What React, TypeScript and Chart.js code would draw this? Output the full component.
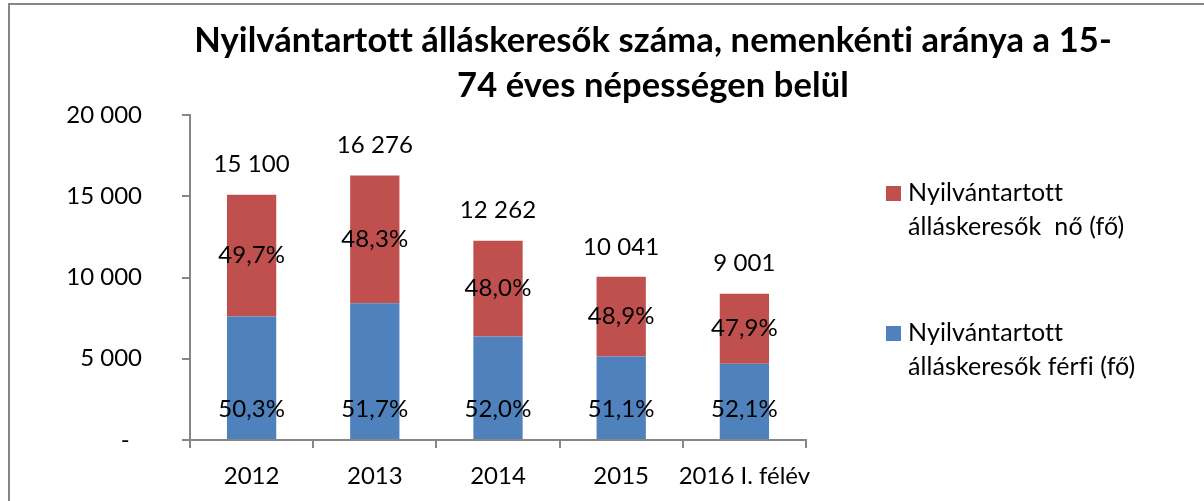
import React, { useEffect, useRef } from "react";
import { Chart, registerables } from "chart.js";

Chart.register(...registerables);

const categories = ["2012", "2013", "2014", "2015", "2016 I. félév"];
const maleValues = [7595, 8415, 6376, 5131, 4690];
const femaleValues = [7505, 7861, 5886, 4910, 4311];
const malePct = ["50,3%", "51,7%", "52,0%", "51,1%", "52,1%"];
const femalePct = ["49,7%", "48,3%", "48,0%", "48,9%", "47,9%"];
const maleLabel = "Nyilvántartott álláskeresők férfi (fő)";
const femaleLabel = "Nyilvántartott álláskeresők  nő (fő)";
const titleLines = [
  "Nyilvántartott álláskeresők száma, nemenkénti aránya a 15-",
  "74 éves népességen belül",
];

const FONT = "Lato, 'Open Sans', sans-serif";
const fmt = (v: number) =>
  Math.round(v)
    .toString()
    .replace(/\B(?=(\d{3})+(?!\d))/g, " ");

const decorPlugin = {
  id: "decor",
  beforeDraw(chart: any) {
    const ctx = chart.ctx;
    ctx.save();
    ctx.fillStyle = "#ffffff";
    ctx.fillRect(0, 0, chart.width, chart.height);
    ctx.strokeStyle = "#868686";
    ctx.lineWidth = 2;
    ctx.beginPath();
    ctx.moveTo(9, chart.height + 2);
    ctx.lineTo(9, 4);
    ctx.lineTo(chart.width + 2, 4);
    ctx.stroke();
    ctx.restore();
  },
  afterDraw(chart: any) {
    const ctx = chart.ctx;
    ctx.save();
    ctx.letterSpacing = "0.1px";
    // title
    ctx.fillStyle = "#000";
    ctx.font = `bold 34.5px ${FONT}`;
    ctx.textAlign = "center";
    ctx.textBaseline = "alphabetic";
    ctx.fillText(titleLines[0], 653, 52);
    ctx.fillText(titleLines[1], 653, 97);

    // data labels
    ctx.font = `24px ${FONT}`;
    ctx.textBaseline = "middle";
    const mMeta = chart.getDatasetMeta(0);
    const fMeta = chart.getDatasetMeta(1);
    mMeta.data.forEach((el: any, i: number) => {
      ctx.fillText(malePct[i], el.x, el.base - 30);
    });
    fMeta.data.forEach((el: any, i: number) => {
      ctx.fillText(femalePct[i], el.x, (el.y + el.base) / 2);
      const total = maleValues[i] + femaleValues[i];
      ctx.fillText(fmt(total), el.x, el.y - 30);
    });

    // legend
    const items = [
      { ds: chart.data.datasets[1], y: 186 },
      { ds: chart.data.datasets[0], y: 326 },
    ];
    ctx.font = `25px ${FONT}`;
    ctx.textAlign = "left";
    ctx.textBaseline = "alphabetic";
    items.forEach((it) => {
      ctx.fillStyle = it.ds.backgroundColor;
      ctx.fillRect(886, it.y, 15, 15);
      ctx.fillStyle = "#000";
      const label: string = it.ds.label;
      const idx = label.indexOf(" ");
      ctx.fillText(label.slice(0, idx), 908, it.y + 15);
      ctx.fillText(label.slice(idx + 1), 908, it.y + 49);
    });
    ctx.restore();
  },
};

export default function App() {
  const ref = useRef<HTMLCanvasElement>(null);
  useEffect(() => {
    if (!ref.current) return;
    const chart = new Chart(ref.current, {
      type: "bar",
      data: {
        labels: categories,
        datasets: [
          {
            label: maleLabel,
            data: maleValues,
            backgroundColor: "#4F81BD",
            stack: "s",
          },
          {
            label: femaleLabel,
            data: femaleValues,
            backgroundColor: "#C0504D",
            stack: "s",
          },
        ],
      },
      options: {
        responsive: false,
        animation: false,
        devicePixelRatio: 1,
        layout: { padding: { top: 115, right: 398, bottom: 0, left: 0 } },
        datasets: { bar: { categoryPercentage: 1, barPercentage: 0.4 } },
        plugins: {
          legend: { display: false },
          title: { display: false },
          tooltip: { enabled: false },
        },
        scales: {
          x: {
            stacked: true,
            offset: true,
            grid: {
              offset: true,
              drawOnChartArea: false,
              drawTicks: true,
              tickLength: 8,
              color: "#868686",
              lineWidth: 2,
            },
            border: { display: true, color: "#868686", width: 2 },
            ticks: {
              color: "#000",
              font: { family: FONT, size: 24 },
              padding: 14,
              maxRotation: 0,
              autoSkip: false,
            },
            afterFit: (s: any) => {
              s.height = 61;
            },
          },
          y: {
            stacked: true,
            min: 0,
            max: 20000,
            grid: {
              drawOnChartArea: false,
              drawTicks: true,
              tickLength: 8,
              color: "#868686",
              lineWidth: 2,
            },
            border: { display: true, color: "#868686", width: 2 },
            ticks: {
              stepSize: 5000,
              color: "#000",
              font: { family: FONT, size: 24 },
              padding: 40,
              callback: (v: any) => (Number(v) === 0 ? "-  " : fmt(Number(v))),
            },
            afterFit: (s: any) => {
              s.width = 190;
            },
          },
        },
      },
      plugins: [decorPlugin],
    });
    return () => chart.destroy();
  }, []);
  return (
    <div style={{ position: "absolute", left: 0, top: 0, width: 1204, height: 501, overflow: "hidden" }}>
      <canvas ref={ref} width={1204} height={501} style={{ display: "block" }} />
    </div>
  );
}
